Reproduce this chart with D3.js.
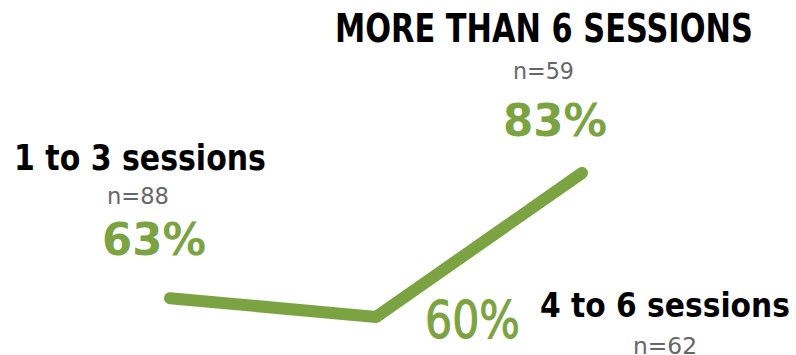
<!DOCTYPE html>
<html><head><meta charset="utf-8">
<script src="https://cdn.jsdelivr.net/npm/d3@7/dist/d3.min.js"></script>
<style>
html,body{margin:0;padding:0;background:#fff;}
svg{display:block;}
</style></head>
<body>
<svg id="chart" width="796" height="355"></svg>
<script>
const categories = ["1 to 3 sessions", "4 to 6 sessions", "MORE THAN 6 SESSIONS"];
const values = [63, 60, 83];
const sampleSizes = [88, 62, 59];

const green = "#7ca342";
const svg = d3.select("#chart");

const x = d3.scalePoint().domain(categories).range([170, 582]);
const y = d3.scaleLinear().domain([60, 83]).range([317, 173]);

const data = categories.map((c, i) => ({cat: c, value: values[i], n: sampleSizes[i]}));

svg.append("path")
  .datum(data)
  .attr("fill", "none")
  .attr("stroke", green)
  .attr("stroke-width", 12)
  .attr("stroke-linecap", "round")
  .attr("stroke-linejoin", "round")
  .attr("d", d3.line().x(d => x(d.cat)).y(d => y(d.value)));

// label layout relative to each point: [dx, dy, width, visual size]
const layout = [
  {title: [-156, -128, 252, 36], n: [-63, -94, 62, 23], val: [-68, -43, 104, 44, "bold"]},
  {title: [164, 0, 250, 34], n: [257, 37, 64, 23], val: [49, 21, 95, 52, "normal"]},
  {title: [-247, -131, 418, 39], n: [-69, -94, 61, 23], val: [-79, -37, 104, 45, "bold"]}
];

const font = "'Century Gothic','URW Gothic','DejaVu Sans',sans-serif";

// fit text so its natural width equals the target width, then stretch vertically to the visual size
function fitText(t, px, py, width, size) {
  t.attr("font-size", 100);
  const w100 = t.node().getComputedTextLength();
  const fs = 100 * width / w100;
  const k = size / fs;
  t.attr("font-size", fs)
   .attr("x", 0).attr("y", 0)
   .attr("transform", `translate(${px},${py}) scale(1,${k})`);
}

data.forEach((d, i) => {
  const px = x(d.cat), py = y(d.value), L = layout[i];
  const t1 = svg.append("text")
    .attr("font-family", font).attr("font-weight", "bold")
    .attr("fill", "#000").text(d.cat);
  fitText(t1, px + L.title[0], py + L.title[1], L.title[2], L.title[3]);

  const t2 = svg.append("text")
    .attr("font-family", font).attr("fill", "#666")
    .text("n=" + d.n);
  fitText(t2, px + L.n[0], py + L.n[1], L.n[2], L.n[3]);

  const t3 = svg.append("text")
    .attr("font-family", font).attr("font-weight", L.val[4])
    .attr("fill", green)
    .attr("stroke", L.val[4] === "normal" ? green : "none")
    .attr("stroke-width", 0.9)
    .text(d.value + "%");
  fitText(t3, px + L.val[0], py + L.val[1], L.val[2], L.val[3]);
});
</script>
</body></html>
